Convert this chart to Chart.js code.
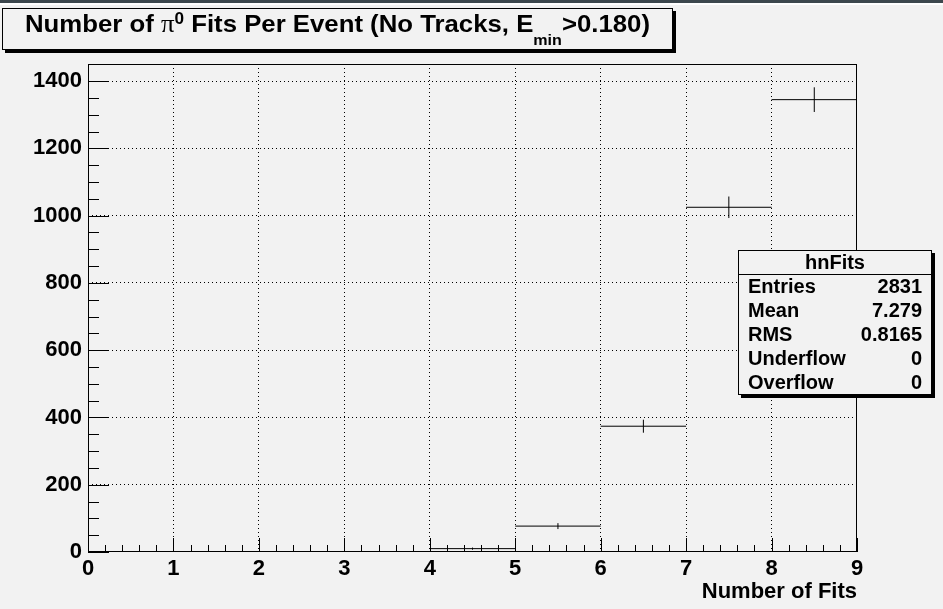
<!DOCTYPE html>
<html>
<head>
<meta charset="utf-8">
<script src="https://cdn.jsdelivr.net/npm/chart.js@4.4.0/dist/chart.umd.min.js"></script>
<style>
  html, body { margin: 0; padding: 0; background: #f2f2f2; overflow: hidden; }
</style>
</head>
<body>
<canvas id="hist" width="943" height="609"></canvas>
<script>
// histogram hnFits
const binLow = [4, 5, 6, 7, 8];
const binHigh = [5, 6, 7, 8, 9];
const counts = [10, 77, 374, 1025, 1345];
const errors = [3.2, 8.8, 19.3, 32.0, 36.7];

const xTicks = [0, 1, 2, 3, 4, 5, 6, 7, 8, 9];
const yTicks = [0, 200, 400, 600, 800, 1000, 1200, 1400];

const statLabels = ['Entries', 'Mean', 'RMS', 'Underflow', 'Overflow'];
const statValues = ['2831', '7.279', '0.8165', '0', '0'];
const histName = 'hnFits';
const xTitle = 'Number of Fits';

const FONT = '"Liberation Sans", Arial, Helvetica, sans-serif';

// horizontal bin lines + vertical error bars (null breaks the line)
const stepPts = [];
const errPts = [];
binLow.forEach((lo, i) => {
  const hi = binHigh[i];
  const c = (lo + hi) / 2;
  stepPts.push({ x: lo, y: counts[i] }, { x: hi, y: counts[i] }, { x: hi, y: null });
  errPts.push({ x: c, y: counts[i] - errors[i] }, { x: c, y: counts[i] + errors[i] }, { x: c, y: null });
});

function drawTitle(ctx) {
  // box with shadow
  ctx.fillStyle = '#000';
  ctx.fillRect(5, 11, 671, 42);
  ctx.fillStyle = '#f2f2f2';
  ctx.fillRect(2, 8, 671, 42);
  ctx.strokeStyle = '#000';
  ctx.lineWidth = 1;
  ctx.strokeRect(2.5, 8.5, 670, 41);

  const parts = [
    { t: 'Number of ', f: 'bold 24px ' + FONT, dy: 0 },
    { t: 'π', f: '25px "Liberation Serif", "DejaVu Serif", serif', dy: 0 },
    { t: '0', f: 'bold 16px ' + FONT, dy: -8 },
    { t: ' Fits Per Event (No Tracks, E', f: 'bold 24px ' + FONT, dy: 0 },
    { t: 'min', f: 'bold 15px ' + FONT, dy: 13 },
    { t: '>0.180)', f: 'bold 24px ' + FONT, dy: 0 }
  ];
  let total = 0;
  parts.forEach(p => { ctx.font = p.f; p.w = ctx.measureText(p.t).width; total += p.w; });
  const sx = 625 / total;
  ctx.save();
  ctx.translate(25, 32);
  ctx.scale(sx, 1);
  ctx.fillStyle = '#000';
  ctx.textBaseline = 'alphabetic';
  ctx.textAlign = 'left';
  let x = 0;
  parts.forEach(p => { ctx.font = p.f; ctx.fillText(p.t, x, p.dy); x += p.w; });
  ctx.restore();
}

function drawStats(ctx) {
  const x0 = 738, y0 = 250, w = 194, h = 145;
  ctx.fillStyle = '#000';
  ctx.fillRect(x0 + 3, y0 + 3, w, h);
  ctx.fillStyle = '#f2f2f2';
  ctx.fillRect(x0, y0, w, h);
  ctx.strokeStyle = '#000';
  ctx.lineWidth = 1;
  ctx.strokeRect(x0 + 0.5, y0 + 0.5, w - 1, h - 1);
  ctx.beginPath();
  ctx.moveTo(x0, 274.5);
  ctx.lineTo(x0 + w, 274.5);
  ctx.stroke();

  ctx.fillStyle = '#000';
  ctx.font = 'bold 20px ' + FONT;
  ctx.textBaseline = 'middle';
  ctx.textAlign = 'center';
  ctx.fillText(histName, x0 + w / 2, 263);
  const rowY = [287, 311, 335, 359, 383];
  statLabels.forEach((lab, i) => {
    ctx.textAlign = 'left';
    ctx.fillText(lab, 748, rowY[i]);
    ctx.textAlign = 'right';
    ctx.fillText(statValues[i], 922, rowY[i]);
  });
}

const rootDecor = {
  id: 'rootDecor',
  beforeDraw(chart) {
    const ctx = chart.ctx;
    ctx.save();
    ctx.fillStyle = '#f2f2f2';
    ctx.fillRect(0, 0, chart.width, chart.height);
    ctx.fillStyle = '#3c474d';
    ctx.fillRect(0, 0, chart.width, 3);
    ctx.fillStyle = '#ffffff';
    ctx.fillRect(0, 3, chart.width, 2);
    ctx.restore();
  },
  afterDraw(chart) {
    const ctx = chart.ctx;
    const a = chart.chartArea;
    const xs = chart.scales.x, ys = chart.scales.y;
    ctx.save();
    ctx.strokeStyle = '#000';
    ctx.lineWidth = 1;
    // frame
    ctx.strokeRect(Math.round(a.left) + 0.5, Math.round(a.top) + 0.5,
      Math.round(a.right - a.left) - 1, Math.round(a.bottom - a.top) - 1);
    // inward ticks
    ctx.beginPath();
    for (let v = 0; v <= ys.max + 1e-9; v += 50) {
      const py = Math.round(ys.getPixelForValue(v)) + 0.5;
      const len = v % 200 === 0 ? 21 : 11;
      ctx.moveTo(a.left, py);
      ctx.lineTo(a.left + len, py);
    }
    for (let k = 0; k <= 45; k++) {
      const v = k / 5;
      const px = Math.round(xs.getPixelForValue(v)) + 0.5;
      const len = k % 5 === 0 ? 14 : 7;
      ctx.moveTo(px, a.bottom);
      ctx.lineTo(px, a.bottom - len);
    }
    ctx.stroke();

    // x axis title
    ctx.fillStyle = '#000';
    ctx.font = 'bold 22px ' + FONT;
    ctx.textAlign = 'right';
    ctx.textBaseline = 'alphabetic';
    ctx.fillText(xTitle, a.right, 598);

    drawTitle(ctx);
    drawStats(ctx);
    ctx.restore();
  }
};

new Chart(document.getElementById('hist'), {
  type: 'scatter',
  data: {
    datasets: [
      { data: stepPts, showLine: true, spanGaps: false, borderColor: '#000', borderWidth: 1, pointRadius: 0 },
      { data: errPts, showLine: true, spanGaps: false, borderColor: '#000', borderWidth: 1, pointRadius: 0 }
    ]
  },
  options: {
    responsive: false,
    animation: false,
    devicePixelRatio: 1,
    layout: { padding: { top: 64, right: 86, left: 0, bottom: 0 } },
    plugins: { legend: { display: false }, tooltip: { enabled: false } },
    scales: {
      x: {
        type: 'linear',
        min: 0,
        max: 9,
        afterFit: s => { s.height = 57; },
        afterBuildTicks: s => { s.ticks = xTicks.map(v => ({ value: v })); },
        ticks: { color: '#000', padding: 4, maxRotation: 0, callback: v => String(v), font: { family: FONT, size: 22, weight: 'bold' } },
        grid: {
          drawTicks: false,
          lineWidth: 1,
          color: c => (c.tick && (c.tick.value === 0 || c.tick.value === 9)) ? 'rgba(0,0,0,0)' : '#000'
        },
        border: { display: false, dash: [1, 3] }
      },
      y: {
        min: 0,
        max: 1451,
        afterFit: s => { s.width = 88; },
        afterBuildTicks: s => { s.ticks = yTicks.map(v => ({ value: v })); },
        ticks: { color: '#000', padding: 6, callback: v => String(v), font: { family: FONT, size: 22, weight: 'bold' } },
        grid: {
          drawTicks: false,
          lineWidth: 1,
          color: c => (c.tick && c.tick.value === 0) ? 'rgba(0,0,0,0)' : '#000'
        },
        border: { display: false, dash: [1, 3] }
      }
    }
  },
  plugins: [rootDecor]
});
</script>
</body>
</html>
